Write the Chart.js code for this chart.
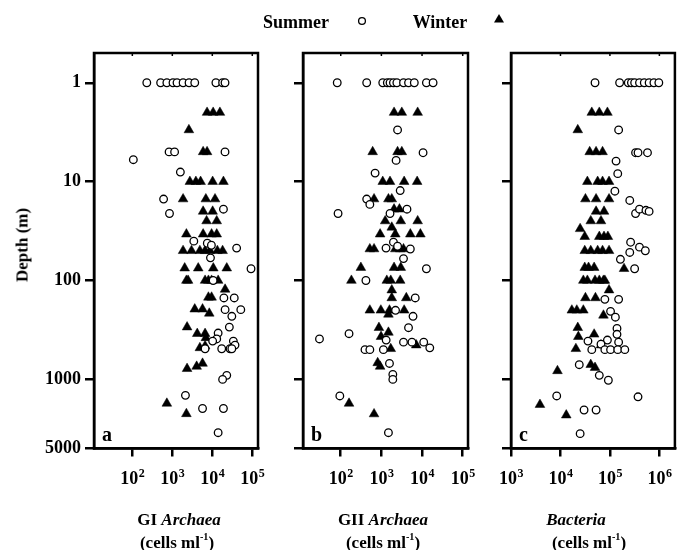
<!DOCTYPE html>
<html>
<head>
<meta charset="utf-8">
<script src="https://cdn.jsdelivr.net/npm/chart.js@4.4.0/dist/chart.umd.min.js"></script>
<style>
  html, body { margin: 0; padding: 0; background: #fff; }
  #wrap { position: relative; width: 681px; height: 550px; overflow: hidden;
          font-family: "Liberation Serif", "Times New Roman", serif; font-weight: bold; color: #000; }
  #wrap canvas { position: absolute; left: 0; top: 0; }
  .txt { position: absolute; white-space: nowrap; line-height: 1; transform: translate(-50%, -50%); }
  .txt sup { font-size: 0.6em; vertical-align: 0.7em; line-height: 0; }
  #depth { transform: translate(-50%, -50%) rotate(-90deg); }
</style>
</head>
<body>
<div id="wrap">
  <canvas id="chartA" width="681" height="550"></canvas>
  <canvas id="chartB" width="681" height="550"></canvas>
  <canvas id="chartC" width="681" height="550"></canvas>

  <div class="txt" style="left:296px; top:22px; font-size:18px">Summer</div>
  <svg style="position:absolute; left:355px; top:14px" width="14" height="14">
    <circle cx="7" cy="7" r="3.4" fill="#fff" stroke="#000" stroke-width="1.3"/>
  </svg>
  <div class="txt" style="left:440px; top:22px; font-size:18px">Winter</div>
  <svg style="position:absolute; left:492px; top:12px" width="14" height="14">
    <polygon points="7,2 12,10.5 2,10.5" fill="#000"/>
  </svg>

  <div class="txt" id="depth" style="left:22px; top:245px; font-size:17px">Depth (m)</div>

  <div class="txt" style="left:179px; top:519px; font-size:17px">GI <i>Archaea</i></div>
  <div class="txt" style="left:177px; top:542px; font-size:17px">(cells ml<sup>-1</sup>)</div>
  <div class="txt" style="left:383px; top:519px; font-size:17px">GII <i>Archaea</i></div>
  <div class="txt" style="left:383px; top:542px; font-size:17px">(cells ml<sup>-1</sup>)</div>
  <div class="txt" style="left:576px; top:519px; font-size:17px"><i>Bacteria</i></div>
  <div class="txt" style="left:589px; top:542px; font-size:17px">(cells ml<sup>-1</sup>)</div>
</div>

<script>
// tick values
const depthTicks = [1, 10, 100, 1000, 5000];
const archaeaTicks = [100, 1000, 10000, 100000];
const bacteriaTicks = [1000, 10000, 100000, 1000000];

// GI Archaea
const giSummerDepth = [1, 1, 1, 1, 1, 1, 1, 1, 1, 1, 1, 5, 5, 5, 6, 8, 15, 21, 19, 40, 42, 44, 47, 59, 76, 100,
  150, 150, 197, 197, 230, 296, 340, 390, 410, 450, 410, 490, 490, 490, 490, 910, 1000, 1450, 1970, 1970, 3460];
const giSummerCells = [230, 510, 730, 1040, 1310, 1860, 2620, 3640, 12300, 18100, 20800, 830, 1140, 20800, 106, 1590, 605, 850, 19000, 3450, 7500, 9500, 40600, 9000, 93000, 10500,
  19500, 35400, 20900, 51600, 30800, 26700, 14000, 12900, 33600, 37000, 10200, 6600, 17200, 27800, 30800, 23000, 18100, 2130, 5700, 19000, 14000];
const giWinterDepth = [2, 2, 2, 3, 5, 5, 10, 10, 10, 10, 10, 15, 15, 15, 20, 20, 25, 25, 34, 34, 34, 34,
  50, 50, 50, 50, 50, 50, 50, 75, 75, 75, 75, 100, 100, 100, 100, 100, 100, 123, 148, 148,
  195, 195, 215, 296, 345, 345, 380, 480, 460, 780, 740, 690, 1750, 2230];
const giWinterCells = [7400, 10500, 15500, 2600, 5900, 7400, 2750, 3890, 5100, 10200, 19000, 1860, 6900, 11700, 5900, 10200, 7200, 12900, 2250, 5900, 9600, 12900,
  1860, 3020, 4890, 6600, 8700, 13400, 18100, 2040, 4450, 10600, 23000, 2250, 2480, 6600, 8000, 9600, 14000, 20900, 8000, 9600,
  3640, 5700, 8400, 2340, 4200, 6600, 6900, 4890, 6600, 2340, 4060, 5700, 730, 2250];

// GII Archaea
const giiSummerDepth = [1, 1, 1, 1, 1, 1, 1, 1, 1, 1, 1, 1, 3, 5.1, 6.1, 8.2, 12.3, 15, 17, 21, 21, 19, 41, 47, 45, 48, 60, 76, 100, 150,
  200, 230, 300, 345, 390, 400, 420, 420, 420, 480, 500, 500, 500, 690, 890, 1000, 1470, 3460];
const giiSummerCells = [82, 435, 1080, 1400, 1630, 1980, 2400, 3500, 4650, 6450, 12800, 18700, 2500, 10600, 2300, 700, 2900, 435, 520, 86, 1630, 4260, 1980, 1300, 2500, 5150, 3500, 12800, 416, 6800,
  2230, 6000, 4650, 160, 30, 1310, 3500, 5650, 11000, 15500, 395, 520, 1120, 1580, 1910, 1910, 95, 1490];
const giiWinterDepth = [2, 2, 2, 5, 5, 5, 10, 10, 10, 10, 15, 15, 15, 19, 19, 25, 25, 25, 29, 34, 34, 34, 34,
  48, 48, 48, 48, 48, 74, 74, 74, 100, 100, 100, 100, 125, 150, 150, 200, 200, 200, 200, 220,
  300, 335, 370, 450, 490, 680, 740, 1750, 2240];
const giiWinterCells = [2050, 3180, 7800, 610, 2500, 3180, 1080, 1630, 3630, 7580, 660, 1490, 1800, 2050, 2780, 1240, 3000, 7800, 1800, 930, 2200, 5150, 9100,
  520, 660, 2200, 2900, 3500, 313, 2050, 3000, 183, 1360, 1700, 2900, 1800, 1800, 4100, 520, 970, 1580, 3630, 1490,
  870, 1490, 980, 7200, 1700, 810, 930, 160, 660];

// Bacteria
const bacSummerDepth = [1, 1, 1, 1, 1, 1, 1, 1, 1, 1, 3, 5.1, 5.1, 5.1, 6.2, 8.3, 12.5, 15.5, 21, 19, 19.5, 20,
  41, 46, 50, 52, 61, 76, 155, 155, 205, 235, 305, 350, 410, 400, 440, 420,
  500, 500, 500, 500, 500, 710, 910, 1020, 1470, 1500, 2040, 2040, 3540];
const bacSummerCells = [50000, 157000, 235000, 272000, 316000, 396000, 495000, 620000, 775000, 975000, 150000, 330000, 370000, 575000, 133000, 144000, 126000, 252000, 330000, 396000, 535000, 620000,
  262000, 396000, 520000, 252000, 163000, 316000, 79000, 150000, 103000, 129000, 139000, 139000, 36000, 89000, 66000, 150000,
  43000, 79000, 103000, 144000, 200000, 24000, 61000, 93000, 8400, 370000, 30000, 52500, 25000];
const bacWinterDepth = [2, 2, 2, 3, 5, 5, 5, 10, 10, 10, 10, 15, 15, 15, 20, 20, 25, 25, 30, 36, 36, 36, 36,
  50, 50, 50, 50, 50, 74, 74, 74, 76, 100, 100, 100, 100, 100, 100, 125, 150, 150,
  200, 200, 200, 225, 300, 370, 350, 450, 490, 820, 710, 760, 1800, 2300];
const bacWinterCells = [43000, 61000, 89000, 22400, 39000, 52500, 71000, 35000, 56500, 71000, 96000, 32000, 52500, 96000, 52500, 76000, 41000, 66000, 25000, 31000, 61000, 76000, 91000,
  31000, 41000, 56500, 71000, 96000, 31000, 37000, 48000, 193000, 29000, 35000, 50000, 61000, 74000, 79000, 96000, 32000, 51000,
  17000, 21400, 29000, 74000, 22400, 23000, 48000, 66000, 20500, 8700, 41000, 50000, 3850, 13100];

const serif = '"Liberation Serif", "Times New Roman", serif';

function toPoints(cells, depth) {
    return cells.map((c, i) => ({ x: c, y: depth[i] }));
}

// frame on top/right, small inner ticks on top, 10^n tick labels, panel letter
const panelFrame = {
    id: 'panelFrame',
    afterDraw(chart, args, opts) {
        const { ctx, chartArea: a } = chart;
        const xs = chart.scales.x;
        ctx.save();
        ctx.strokeStyle = '#000';
        ctx.lineWidth = 2.5;
        ctx.strokeRect(a.left, a.top, a.right - a.left, a.bottom - a.top);
        ctx.lineWidth = 1.5;
        ctx.fillStyle = '#000';
        ctx.textBaseline = 'alphabetic';
        xs.ticks.forEach(t => {
            const px = xs.getPixelForValue(t.value);
            ctx.beginPath();
            ctx.moveTo(px, a.top);
            ctx.lineTo(px, a.top + 3);
            ctx.stroke();

            // "10" with a raised exponent
            const exp = String(Math.round(Math.log10(t.value)));
            ctx.font = 'bold 18px ' + serif;
            const wBase = ctx.measureText('10').width;
            ctx.font = 'bold 12px ' + serif;
            const wExp = ctx.measureText(exp).width;
            const x0 = px - (wBase + wExp) / 2;
            const base = a.bottom + 35;
            ctx.font = 'bold 18px ' + serif;
            ctx.fillText('10', x0, base);
            ctx.font = 'bold 12px ' + serif;
            ctx.fillText(exp, x0 + wBase + 0.5, base - 7);
        });
        ctx.font = 'bold 20px ' + serif;
        ctx.fillText(opts.letter, a.left + 8, a.bottom - 8);
        ctx.restore();
    }
};

function makePanel(id, p) {
    return new Chart(document.getElementById(id), {
        type: 'scatter',
        data: {
            datasets: [{
                label: 'Summer',
                data: toPoints(p.summerCells, p.summerDepth),
                pointStyle: 'circle',
                pointRadius: 3.8,
                pointBackgroundColor: '#fff',
                pointBorderColor: '#000',
                pointBorderWidth: 1.3
            }, {
                label: 'Winter',
                data: toPoints(p.winterCells, p.winterDepth),
                pointStyle: 'triangle',
                pointRadius: 5.6,
                pointBackgroundColor: '#000',
                pointBorderColor: '#000',
                pointBorderWidth: 0.5
            }]
        },
        options: {
            responsive: false,
            animation: false,
            events: [],
            layout: { padding: p.padding },
            plugins: {
                legend: { display: false },
                tooltip: { enabled: false },
                panelFrame: { letter: p.letter }
            },
            scales: {
                x: {
                    type: 'logarithmic',
                    min: p.xMin,
                    max: p.xMax,
                    afterFit: s => { s.height = 40; },
                    afterBuildTicks: s => { s.ticks = p.xTicks.map(v => ({ value: v })); },
                    ticks: {
                        callback: () => '',   // drawn by panelFrame as 10^n
                        autoSkip: false
                    },
                    grid: { drawOnChartArea: false, drawTicks: true, tickLength: 8, lineWidth: 2.5, color: '#000' },
                    border: { display: true, width: 2.5, color: '#000' }
                },
                y: {
                    type: 'logarithmic',
                    reverse: true,
                    min: 0.5,
                    max: 5000,
                    afterFit: s => { s.width = 60; },
                    afterBuildTicks: s => { s.ticks = depthTicks.map(v => ({ value: v })); },
                    ticks: {
                        callback: v => p.showDepth ? String(v) : '',
                        font: { family: serif, size: 18, weight: 'bold' },
                        color: '#000',
                        padding: 4,
                        autoSkip: false
                    },
                    grid: { drawOnChartArea: false, drawTicks: true, tickLength: 9, lineWidth: 2.5, color: '#000' },
                    border: { display: true, width: 2.5, color: '#000' }
                }
            }
        },
        plugins: [panelFrame]
    });
}

makePanel('chartA', {
    summerCells: giSummerCells, summerDepth: giSummerDepth,
    winterCells: giWinterCells, winterDepth: giWinterDepth,
    xMin: 11, xMax: 139000, xTicks: archaeaTicks, letter: 'a', showDepth: true,
    padding: { left: 34, right: 423, top: 53, bottom: 61.5 }
});
makePanel('chartB', {
    summerCells: giiSummerCells, summerDepth: giiSummerDepth,
    winterCells: giiWinterCells, winterDepth: giiWinterDepth,
    xMin: 11.8, xMax: 135000, xTicks: archaeaTicks, letter: 'b', showDepth: false,
    padding: { left: 243, right: 213, top: 53, bottom: 61.5 }
});
makePanel('chartC', {
    summerCells: bacSummerCells, summerDepth: bacSummerDepth,
    winterCells: bacWinterCells, winterDepth: bacWinterDepth,
    xMin: 1000, xMax: 2060000, xTicks: bacteriaTicks, letter: 'c', showDepth: false,
    padding: { left: 451, right: 1, top: 53, bottom: 61.5 }
});
</script>
</body>
</html>
